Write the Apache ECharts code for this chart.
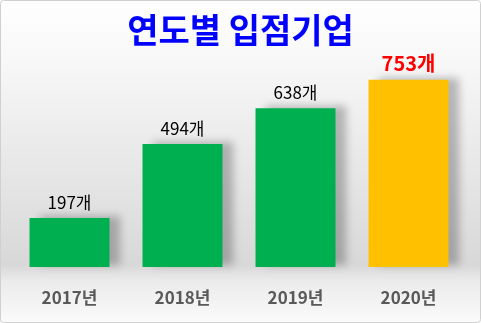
<!DOCTYPE html>
<html><head><meta charset="utf-8">
<script src="https://cdn.jsdelivr.net/npm/echarts@6/dist/echarts.min.js"></script>
<style>html,body{margin:0;padding:0;background:#fff}#c{width:481px;height:323px}</style>
</head><body><div id="c"></div>
<script>
var categories = ['2017년', '2018년', '2019년', '2020년'];
var values = [197, 494, 638, 753];
var labelSuffix = '개';
var titleText = '연도별 입점기업';

var chart = echarts.init(document.getElementById('c'));
var data = values.map(function (v, i) {
  var last = i === values.length - 1;
  return {
    value: v,
    itemStyle: { color: last ? '#FFC000' : '#00B050' },
    label: last ? { color: '#FF0000', fontWeight: 'bold', fontSize: 20, distance: 6 } : {}
  };
});
chart.setOption({
  animation: false,
  backgroundColor: {
    type: 'linear', x: 0, y: 0, x2: 0, y2: 1,
    colorStops: [
      { offset: 0, color: '#ffffff' },
      { offset: 0.22, color: '#f6f6f6' },
      { offset: 0.82, color: '#d8d8d8' },
      { offset: 0.87, color: '#ebebeb' },
      { offset: 1, color: '#fbfbfb' }
    ]
  },
  title: {
    text: titleText, left: 'center', top: 8,
    textStyle: { color: '#0000FF', fontSize: 34, fontWeight: 'bold', fontFamily: 'Noto Sans CJK KR' }
  },
  grid: { left: 13, right: 16, top: 68, bottom: 56 },
  xAxis: {
    type: 'category', data: categories,
    axisLine: { show: false }, axisTick: { show: false },
    axisLabel: { color: '#595959', fontSize: 17, fontWeight: 'bold', margin: 22, fontFamily: 'Noto Sans CJK KR' }
  },
  yAxis: { type: 'value', min: 0, max: 800, show: false, splitLine: { show: false } },
  graphic: [{
    type: 'rect', shape: { x: 0.5, y: 0.5, width: 480, height: 322, r: 3 },
    style: { fill: 'none', stroke: '#d0d0d0', lineWidth: 1 }, z: 100
  }],
  series: [{
    type: 'bar', data: data, barWidth: 80,
    itemStyle: { shadowColor: 'rgba(0,0,0,0.25)', shadowBlur: 8, shadowOffsetX: 10, shadowOffsetY: -2 },
    label: {
      show: true, position: 'top', distance: 7, color: '#000', fontSize: 17,
      fontFamily: 'Noto Sans CJK KR',
      formatter: function (p) { return p.value + labelSuffix; }
    }
  }]
});
</script></body></html>
